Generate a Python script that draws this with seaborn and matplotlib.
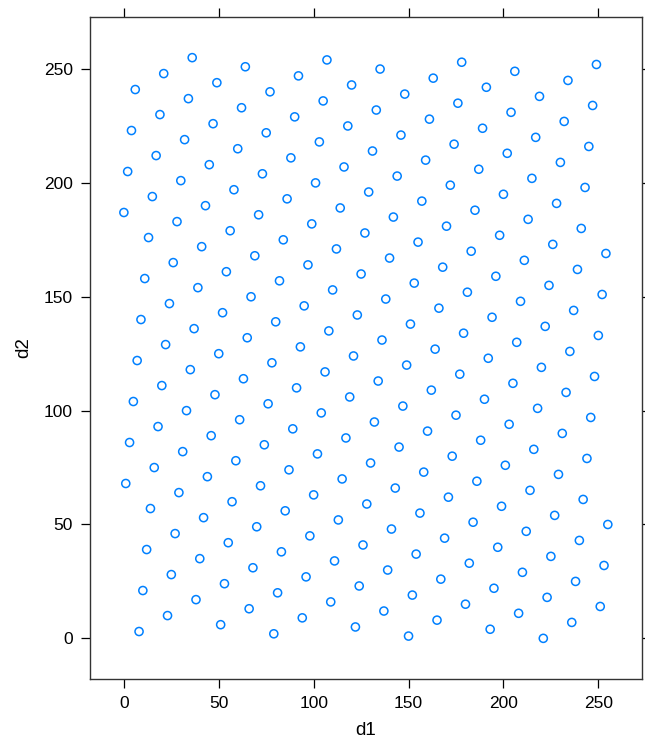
import matplotlib
matplotlib.use("Agg")
import matplotlib.pyplot as plt
import seaborn as sns
import pandas as pd

d1 = [
    0, 1, 2, 3, 4, 5, 6, 7, 8, 9, 10, 11, 12, 13, 14, 15,
    16, 17, 18, 19, 20, 21, 22, 23, 24, 25, 26, 27, 28, 29, 30, 31,
    32, 33, 34, 35, 36, 37, 38, 39, 40, 41, 42, 43, 44, 45, 46, 47,
    48, 49, 50, 51, 52, 53, 54, 55, 56, 57, 58, 59, 60, 61, 62, 63,
    64, 65, 66, 67, 68, 69, 70, 71, 72, 73, 74, 75, 76, 77, 78, 79,
    80, 81, 82, 83, 84, 85, 86, 87, 88, 89, 90, 91, 92, 93, 94, 95,
    96, 97, 98, 99, 100, 101, 102, 103, 104, 105, 106, 107, 108, 109, 110, 111,
    112, 113, 114, 115, 116, 117, 118, 119, 120, 121, 122, 123, 124, 125, 126, 127,
    128, 129, 130, 131, 132, 133, 134, 135, 136, 137, 138, 139, 140, 141, 142, 143,
    144, 145, 146, 147, 148, 149, 150, 151, 152, 153, 154, 155, 156, 157, 158, 159,
    160, 161, 162, 163, 164, 165, 166, 167, 168, 169, 170, 171, 172, 173, 174, 175,
    176, 177, 178, 179, 180, 181, 182, 183, 184, 185, 186, 187, 188, 189, 190, 191,
    192, 193, 194, 195, 196, 197, 198, 199, 200, 201, 202, 203, 204, 205, 206, 207,
    208, 209, 210, 211, 212, 213, 214, 215, 216, 217, 218, 219, 220, 221, 222, 223,
    224, 225, 226, 227, 228, 229, 230, 231, 232, 233, 234, 235, 236, 237, 238, 239,
    240, 241, 242, 243, 244, 245, 246, 247, 248, 249, 250, 251, 252, 253, 254, 255,
]
d2 = [
    187, 68, 205, 86, 223, 104, 241, 122, 3, 140, 21, 158, 39, 176, 57, 194,
    75, 212, 93, 230, 111, 248, 129, 10, 147, 28, 165, 46, 183, 64, 201, 82,
    219, 100, 237, 118, 255, 136, 17, 154, 35, 172, 53, 190, 71, 208, 89, 226,
    107, 244, 125, 6, 143, 24, 161, 42, 179, 60, 197, 78, 215, 96, 233, 114,
    251, 132, 13, 150, 31, 168, 49, 186, 67, 204, 85, 222, 103, 240, 121, 2,
    139, 20, 157, 38, 175, 56, 193, 74, 211, 92, 229, 110, 247, 128, 9, 146,
    27, 164, 45, 182, 63, 200, 81, 218, 99, 236, 117, 254, 135, 16, 153, 34,
    171, 52, 189, 70, 207, 88, 225, 106, 243, 124, 5, 142, 23, 160, 41, 178,
    59, 196, 77, 214, 95, 232, 113, 250, 131, 12, 149, 30, 167, 48, 185, 66,
    203, 84, 221, 102, 239, 120, 1, 138, 19, 156, 37, 174, 55, 192, 73, 210,
    91, 228, 109, 246, 127, 8, 145, 26, 163, 44, 181, 62, 199, 80, 217, 98,
    235, 116, 253, 134, 15, 152, 33, 170, 51, 188, 69, 206, 87, 224, 105, 242,
    123, 4, 141, 22, 159, 40, 177, 58, 195, 76, 213, 94, 231, 112, 249, 130,
    11, 148, 29, 166, 47, 184, 65, 202, 83, 220, 101, 238, 119, 0, 137, 18,
    155, 36, 173, 54, 191, 72, 209, 90, 227, 108, 245, 126, 7, 144, 25, 162,
    43, 180, 61, 198, 79, 216, 97, 234, 115, 252, 133, 14, 151, 32, 169, 50,
]
ticks = [0, 50, 100, 150, 200, 250]

df = pd.DataFrame({"d1": d1, "d2": d2})

sns.set_style("white")
plt.rcParams["font.family"] = ["Liberation Sans", "DejaVu Sans"]
plt.rcParams["text.color"] = "black"
plt.rcParams["axes.labelcolor"] = "black"
plt.rcParams["xtick.color"] = "black"
plt.rcParams["ytick.color"] = "black"

W, H, dpi = 645, 741, 100
fig = plt.figure(figsize=(W / dpi, H / dpi), dpi=dpi)
ax = fig.add_axes([90 / W, 1 - 679 / H, (641.7 - 90) / W, (679 - 17) / H])

sns.scatterplot(data=df, x="d1", y="d2", ax=ax, marker="o", s=34,
                facecolors="none", edgecolor="#0080ff", linewidth=1.1)

ax.set_xlim(-17.85, 272.85)
ax.set_ylim(-17.85, 272.85)
ax.set_xticks(ticks)
ax.set_yticks(ticks)
ax.set_xticklabels([str(t) for t in ticks], fontsize=12.5, color="black")
ax.set_yticklabels([str(t) for t in ticks], fontsize=12.5, color="black")
ax.tick_params(axis="both", which="both", direction="out", length=6.5, width=0.9,
               color="black", pad=6, top=True, right=True, bottom=True, left=True,
               labeltop=False, labelright=False)
for sp in ax.spines.values():
    sp.set_visible(True)
    sp.set_color("#333333")
    sp.set_linewidth(1.0)
ax.set_xlabel("d1", fontsize=13.5, labelpad=8, color="black")
ax.set_ylabel("d2", fontsize=13.5, labelpad=8, color="black")

fig.savefig("out.png", dpi=dpi)
